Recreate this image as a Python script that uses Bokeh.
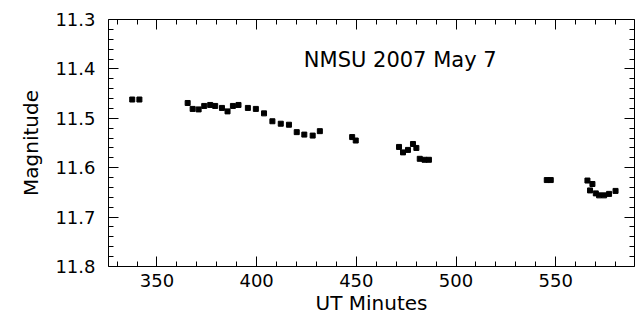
from bokeh.plotting import figure
from bokeh.models import Range1d, LinearAxis, FixedTicker, CustomJSTickFormatter
from bokeh.core.properties import value
from bokeh.embed import file_html
from bokeh.resources import INLINE

ut_minutes = [337.6, 341.2, 365.4, 367.9, 370.9, 373.7, 376.7, 379.2, 382.6, 385.4,
              388.1, 390.9, 395.6, 399.6, 403.7, 407.9, 412.1, 416.2, 420.1, 423.9,
              428.1, 431.7, 447.9, 449.7, 471.4, 473.4, 475.9, 478.4, 480.1, 481.8,
              484.2, 486.4, 545.5, 547.5, 565.9, 567.2, 568.4, 570.1, 571.75, 574.25,
              576.75, 580.0]
magnitude = [11.462, 11.462, 11.469, 11.481, 11.482, 11.475, 11.473, 11.475, 11.479, 11.486,
             11.475, 11.473, 11.479, 11.481, 11.490, 11.506, 11.511, 11.513, 11.528, 11.533,
             11.535, 11.526, 11.538, 11.545, 11.558, 11.569, 11.564, 11.552, 11.560, 11.582,
             11.584, 11.584, 11.625, 11.625, 11.626, 11.646, 11.633, 11.652, 11.656, 11.656,
             11.653, 11.647]

x_major = [350, 400, 450, 500, 550]
x_minor = [330, 340, 360, 370, 380, 390, 410, 420, 430, 440, 460, 470, 480, 490,
           510, 520, 530, 540, 560, 570, 580]
y_major = [11.3, 11.4, 11.5, 11.6, 11.7, 11.8]
y_minor = [11.32, 11.34, 11.36, 11.38, 11.42, 11.44, 11.46, 11.48, 11.52, 11.54, 11.56,
           11.58, 11.62, 11.64, 11.66, 11.68, 11.72, 11.74, 11.76, 11.78]

title_text = "NMSU 2007 May 7"
x_label = "UT Minutes"
y_label = "Magnitude"

FONT = "DejaVu Sans"

p = figure(output_backend="svg", toolbar_location=None,
           frame_width=526, frame_height=247,
           min_border_left=108, min_border_right=2, min_border_top=19, min_border_bottom=53,
           x_range=Range1d(325.7, 589.5), y_range=Range1d(11.8, 11.3),
           x_axis_label=x_label, y_axis_label=y_label)
p.grid.visible = False
p.outline_line_color = None
p.background_fill_color = "white"
p.border_fill_color = "white"

xt = FixedTicker(ticks=x_major, minor_ticks=x_minor)
yt = FixedTicker(ticks=y_major, minor_ticks=y_minor)

def style(ax, labels=True):
    ax.axis_line_color = "black"
    ax.axis_line_width = 1
    ax.major_tick_in = 10
    ax.major_tick_out = 0
    ax.minor_tick_in = 5
    ax.minor_tick_out = 0
    ax.major_tick_line_color = "black"
    ax.minor_tick_line_color = "black"
    ax.major_label_text_font = FONT
    ax.major_label_text_font_size = "18px"
    ax.major_label_text_color = "black"
    ax.axis_label_text_font = FONT
    ax.axis_label_text_font_size = "20px"
    ax.axis_label_text_font_style = "normal"
    ax.axis_label_text_color = "black"
    if not labels:
        ax.formatter = CustomJSTickFormatter(code="return ''")
        ax.major_label_standoff = 0

xa = p.xaxis[0]
xa.ticker = xt
style(xa)
xa.major_label_standoff = 7
xa.axis_label_standoff = 1

ya = p.yaxis[0]
ya.ticker = yt
style(ya)
ya.major_label_standoff = 13
ya.axis_label_standoff = 9

top = LinearAxis(ticker=FixedTicker(ticks=x_major, minor_ticks=x_minor))
style(top, labels=False)
p.add_layout(top, "above")
right = LinearAxis(ticker=FixedTicker(ticks=y_major, minor_ticks=y_minor))
style(right, labels=False)
p.add_layout(right, "right")

p.scatter(ut_minutes, magnitude, marker="square", size=5, color="black")

p.text(x=[472], y=[11.382], text=[title_text], text_font=value(FONT),
       text_font_size="21px", text_align="center", text_baseline="alphabetic",
       text_color="black")

open("out.html", "w").write(file_html(p, INLINE))
